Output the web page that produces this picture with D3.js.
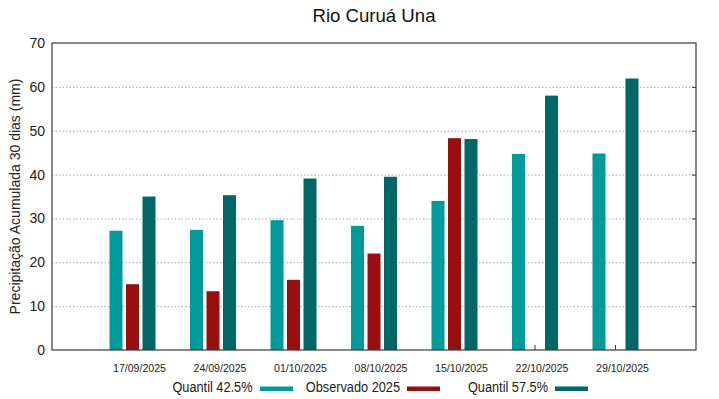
<!DOCTYPE html>
<html><head><meta charset="utf-8">
<script src="https://cdn.jsdelivr.net/npm/d3@7"></script>
<style>body{margin:0;background:#fff}svg{display:block;font-family:"Liberation Sans",Arial,sans-serif}</style>
</head><body><svg id="c" width="719" height="399"></svg>
<script>
const categories = ["17/09/2025","24/09/2025","01/10/2025","08/10/2025","15/10/2025","22/10/2025","29/10/2025"];
const quantil425 = [27.2, 27.4, 29.6, 28.3, 34.0, 44.7, 44.8];
const observado2025 = [15.0, 13.4, 16.0, 22.0, 48.3, null, null];
const quantil575 = [35.0, 35.3, 39.1, 39.5, 48.1, 58.0, 61.9];
const yTicks = [0,10,20,30,40,50,60,70];
const seriesNames = ["Quantil 42.5%","Observado 2025","Quantil 57.5%"];
const seriesColors = ["#009a9a","#990e0e","#006767"];

const svg = d3.select("#c");
const L=52, R=696, T=43, B=350;
const x = d3.scaleLinear().domain([0, categories.length+1]).range([L,R]);
const y = d3.scaleLinear().domain([0,70]).range([B,T]);

// grid
svg.append("g").selectAll("line").data(yTicks.filter(d=>d>0&&d<70)).join("line")
  .attr("x1",L).attr("x2",R).attr("y1",d=>y(d)+0.5).attr("y2",d=>y(d)+0.5)
  .attr("stroke","#a8a8a8").attr("stroke-width",1).attr("stroke-dasharray","1.5,2");

// bars
const series=[quantil425,observado2025,quantil575];
const bw=13, gap=3.5;
series.forEach((s,si)=>{
  svg.append("g").selectAll("rect").data(s.map((v,i)=>({v,i})).filter(d=>d.v!=null)).join("rect")
    .attr("x",d=>x(d.i+1)+(si-1)*(bw+gap)-bw/2)
    .attr("width",bw)
    .attr("y",d=>y(d.v)).attr("height",d=>B-y(d.v))
    .attr("fill",seriesColors[si]);
});

// bottom ticks (inward)
svg.append("g").selectAll("line").data(categories).join("line")
  .attr("x1",(d,i)=>x(i+1)).attr("x2",(d,i)=>x(i+1)).attr("y1",B).attr("y2",B-5)
  .attr("stroke","#333");
// right ticks
svg.append("g").selectAll("line").data(yTicks.filter(d=>d>0&&d<70)).join("line")
  .attr("x1",R).attr("x2",R-4).attr("y1",d=>y(d)+0.5).attr("y2",d=>y(d)+0.5).attr("stroke","#333");

// frame
svg.append("rect").attr("x",L).attr("y",T).attr("width",R-L).attr("height",B-T)
  .attr("fill","none").attr("stroke","#3a3a3a").attr("stroke-width",1.2);

// y labels
svg.append("g").selectAll("text").data(yTicks).join("text")
  .attr("x",45).attr("y",d=>y(d)+5).attr("text-anchor","end")
  .attr("font-size",14).attr("fill","#222").text(d=>d);
// x labels
svg.append("g").selectAll("g").data(categories).join("g")
  .attr("transform",(d,i)=>`translate(${x(i+1)+7},371.5) scale(0.92,1)`)
  .append("text").attr("text-anchor","middle")
  .attr("font-size",11.5).attr("fill","#222").text(d=>d);

// y title
svg.append("text").attr("transform",`translate(20,${(T+B)/2}) rotate(-90)`)
  .attr("text-anchor","middle").attr("font-size",14).attr("fill","#222")
  .text("Precipitação Acumulada 30 dias (mm)");
// title
svg.append("text").attr("x",374).attr("y",22).attr("text-anchor","middle")
  .attr("font-size",18.6).attr("fill","#111").text("Rio Curuá Una");

// legend
const legX=[[252.5,260],[400,407],[548,555]];
seriesNames.forEach((n,i)=>{
  svg.append("g").attr("transform",`translate(${legX[i][0]},392) scale(0.88,1)`)
    .append("text").attr("text-anchor","end")
    .attr("font-size",14.5).attr("fill","#222").text(n);
  svg.append("rect").attr("x",legX[i][1]).attr("y",386.5).attr("width",33).attr("height",4.5)
    .attr("fill",seriesColors[i]);
});
</script></body></html>
